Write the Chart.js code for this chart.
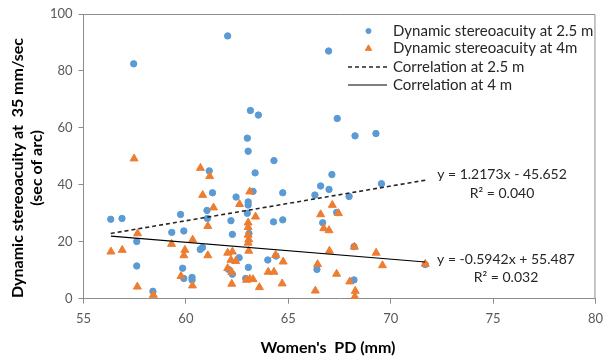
<!DOCTYPE html>
<html>
<head>
<meta charset="utf-8">
<script src="https://cdn.jsdelivr.net/npm/chart.js@4"></script>
<style>
  html, body { margin: 0; padding: 0; background: #ffffff; }
  #wrap { width: 610px; height: 358px; position: relative; }
</style>
</head>
<body>
<div id="wrap"><canvas id="chart"></canvas></div>
<script>
// Women's PD (mm) and dynamic stereoacuity (sec of arc)
const pd25 = [56.33, 56.88, 57.45, 57.6, 57.6, 58.39, 59.31, 59.74, 59.9, 59.84,
    59.9, 60.3, 60.3, 60.7, 60.81, 61.03, 61.05, 61.14, 61.3, 62.04,
    62.08, 62.2, 62.27, 62.27, 62.45, 62.6, 62.92, 63.0, 63.04, 63.04,
    63.04, 63.0, 63.08, 63.05, 63.15, 63.28, 63.38, 63.54, 64.0, 64.3,
    64.28, 64.73, 64.73, 64.4, 66.3, 66.4, 66.58, 66.68, 66.97, 66.99,
    67.13, 67.36, 67.39, 67.97, 68.21, 68.21, 68.26, 69.28, 69.55, 71.69];
const sa25 = [27.9, 28.2, 82.5, 20.1, 11.5, 2.6, 23.3, 29.6, 23.8, 10.7,
    7.1, 7.5, 6.6, 17.3, 18.0, 31.0, 28.2, 44.9, 37.2, 92.3,
    10.3, 27.4, 22.6, 8.6, 35.7, 14.4, 7.1, 56.4, 51.8, 34.0,
    32.9, 30.0, 22.9, 11.0, 66.1, 37.7, 44.2, 64.5, 13.6, 48.5,
    27.0, 27.7, 37.2, 15.0, 36.4, 10.3, 39.6, 26.7, 87.0, 38.4,
    43.6, 30.3, 63.3, 35.9, 18.3, 6.6, 57.2, 58.0, 40.4, 12.0];

const pd4 = [56.34, 56.89, 57.47, 57.64, 57.63, 58.41, 59.3, 59.95, 59.9, 59.76,
    60.33, 60.32, 60.71, 60.82, 61.16, 61.35, 61.07, 61.07, 62.04, 62.27,
    62.2, 62.43, 62.04, 62.24, 62.24, 62.62, 63.12, 63.4, 63.04, 63.04,
    63.04, 63.07, 63.04, 63.07, 62.96, 63.12, 63.28, 63.59, 64.38, 64.75,
    64.02, 64.3, 64.7, 66.58, 66.73, 66.99, 67.01, 66.43, 66.32, 67.15,
    67.45, 67.36, 68.23, 68.0, 68.27, 68.25, 69.29, 69.6, 71.69];
const sa4 = [16.5, 17.1, 49.2, 22.9, 4.2, 1.3, 19.2, 17.1, 15.2, 7.9,
    20.7, 4.6, 45.9, 36.4, 43.0, 32.0, 25.5, 15.2, 16.1, 16.5,
    13.6, 13.2, 10.7, 9.3, 5.2, 33.2, 37.6, 28.8, 26.7, 25.1,
    22.4, 20.8, 19.6, 16.8, 6.6, 6.9, 6.8, 4.0, 15.3, 13.0,
    9.4, 9.4, 5.3, 29.6, 24.7, 24.0, 16.8, 12.1, 2.8, 32.9,
    30.0, 8.7, 18.2, 6.0, 2.7, 0.7, 16.1, 11.7, 12.2];

// linear trend lines: [slope, intercept]
const trend25 = [1.2173, -45.652];
const trend4 = [-0.5942, 55.487];

const seriesNames = ['Dynamic stereoacuity at 2.5 m', 'Dynamic stereoacuity at 4m', 'Correlation at 2.5 m', 'Correlation at 4 m'];
const eqLabels = [['y = 1.2173x - 45.652', 'R² = 0.040'], ['y = -0.5942x + 55.487', 'R² = 0.032']];
const xTicks = [55, 60, 65, 70, 75, 80];
const yTicks = [0, 20, 40, 60, 80, 100];
const xTitle = "Women's  PD (mm)";
const yTitle = ['Dynamic stereoacuity at  35 mm/sec', '(sec of arc)'];

const BLUE = '#5b9bd5';
const ORANGE = '#ed7d31';
const AXIS = '#8c8c8c';
const FONT = 'Lato, "Open Sans", sans-serif';

const toPoints = (xs, ys) => xs.map((x, i) => ({ x, y: ys[i] }));
const trendPoints = (xs, t) => {
    const lo = Math.min(...xs), hi = Math.max(...xs);
    return [{ x: lo, y: t[0] * lo + t[1] }, { x: hi, y: t[0] * hi + t[1] }];
};

// plot frame, legend inside the plot, equation labels and axis titles
const extras = {
    id: 'extras',
    afterDraw(chart) {
        const { ctx, chartArea: a } = chart;
        const ds = chart.data.datasets;
        ctx.save();

        ctx.strokeStyle = AXIS;
        ctx.lineWidth = 1;
        ctx.beginPath();
        ctx.moveTo(a.left, a.top + 0.5);
        ctx.lineTo(a.right - 0.5, a.top + 0.5);
        ctx.lineTo(a.right - 0.5, a.bottom);
        ctx.stroke();

        // legend
        const lx = 393, rows = [31, 48.5, 67, 85];
        ctx.font = '15px ' + FONT;
        ctx.textBaseline = 'middle';
        ctx.textAlign = 'left';
        ds.forEach((d, i) => {
            const y = rows[i];
            if (d.type === 'line') {
                ctx.strokeStyle = d.borderColor;
                ctx.lineWidth = d.borderWidth;
                ctx.setLineDash(d.borderDash || []);
                ctx.beginPath();
                ctx.moveTo(348, y);
                ctx.lineTo(387, y);
                ctx.stroke();
                ctx.setLineDash([]);
            } else {
                ctx.fillStyle = d.backgroundColor;
                ctx.strokeStyle = d.borderColor;
                ctx.lineWidth = 1;
                Chart.helpers.drawPoint(ctx, { pointStyle: d.pointStyle, radius: d.pointRadius * 0.8, borderWidth: 1 }, 368.5, y);
            }
            ctx.fillStyle = '#262626';
            ctx.fillText(d.label, lx, y);
        });

        // trend equations
        ctx.font = '14px ' + FONT;
        ctx.fillStyle = '#262626';
        ctx.textAlign = 'center';
        const eqPos = [[502, 174.5, 193], [506, 259, 277.5]];
        eqLabels.forEach((lines, i) => {
            ctx.fillText(lines[0], eqPos[i][0], eqPos[i][1]);
            ctx.fillText(lines[1], eqPos[i][0], eqPos[i][2]);
        });

        // axis titles
        ctx.font = 'bold 16px ' + FONT;
        ctx.fillStyle = '#000000';
        ctx.fillText(xTitle, 328, 348);
        ctx.translate(18, 168);
        ctx.rotate(-Math.PI / 2);
        ctx.fillText(yTitle[0], 0, 0);
        ctx.fillText(yTitle[1], 0, 19);

        ctx.restore();
    }
};

new Chart(document.getElementById('chart'), {
    type: 'scatter',
    data: {
        datasets: [
            { label: seriesNames[0], data: toPoints(pd25, sa25), backgroundColor: BLUE, borderColor: BLUE, borderWidth: 1, pointStyle: 'circle', pointRadius: 3.2, order: 2 },
            { label: seriesNames[1], data: toPoints(pd4, sa4), backgroundColor: ORANGE, borderColor: ORANGE, borderWidth: 1, pointStyle: 'triangle', pointRadius: 4.6, order: 1 },
            { type: 'line', label: seriesNames[2], data: trendPoints(pd25, trend25), borderColor: '#262626', borderWidth: 1.6, borderDash: [4, 3], pointRadius: 0, fill: false, order: 0 },
            { type: 'line', label: seriesNames[3], data: trendPoints(pd4, trend4), borderColor: '#000000', borderWidth: 1.2, pointRadius: 0, fill: false, order: 0 }
        ]
    },
    options: {
        responsive: true, maintainAspectRatio: false, animation: false,
        layout: { padding: { top: 14, right: 9, left: 0, bottom: 0 } },
        scales: {
            x: {
                type: 'linear', min: 55, max: 80,
                afterBuildTicks: (s) => { s.ticks = xTicks.map(v => ({ value: v })); },
                afterFit: (s) => { s.height = 59.3; },
                grid: { drawOnChartArea: false, drawTicks: true, tickLength: 5, color: AXIS },
                border: { color: AXIS },
                ticks: { color: '#595959', font: { family: FONT, size: 13 }, padding: 7 }
            },
            y: {
                type: 'linear', min: 0, max: 100,
                afterBuildTicks: (s) => { s.ticks = yTicks.map(v => ({ value: v })); },
                afterFit: (s) => { s.width = 83.5; },
                grid: { drawOnChartArea: false, drawTicks: true, tickLength: 5, color: AXIS },
                border: { color: AXIS },
                ticks: { color: '#595959', font: { family: FONT, size: 13 }, padding: 6 }
            }
        },
        plugins: {
            legend: { display: false },
            tooltip: { enabled: false }
        }
    },
    plugins: [extras]
});
</script>
</body>
</html>
